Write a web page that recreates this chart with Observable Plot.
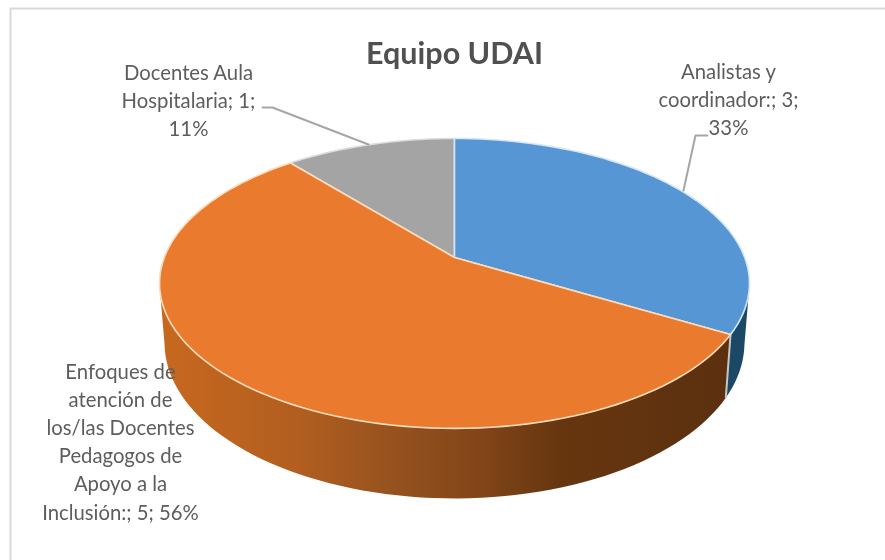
<!DOCTYPE html>
<html>
<head>
<meta charset="utf-8">
<script src="https://cdn.jsdelivr.net/npm/d3@7"></script>
<script src="https://cdn.jsdelivr.net/npm/@observablehq/plot@0.6"></script>
<style>html,body{margin:0;padding:0;background:#fff}</style>
</head>
<body>
<div id="chart"></div>
<script>
// Data
const categories = ["Analistas y coordinador:", "Enfoques de atención de los/las Docentes Pedagogos de Apoyo a la Inclusión:", "Docentes Aula Hospitalaria"];
const values = [3, 5, 1];
const percents = ["33%", "56%", "11%"];
const labelLines = [
  ["Analistas y", "coordinador:; 3;", "33%"],
  ["Enfoques de", "atención de", "los/las Docentes", "Pedagogos de", "Apoyo a la", "Inclusión:; 5; 56%"],
  ["Docentes Aula", "Hospitalaria; 1;", "11%"]
];
const chartTitle = "Equipo UDAI";

// Styles
const topFill = ["#5696d4", "#ea7b2e", "#a4a4a4"];
const topEdge = ["#d4e6f7", "#fbdcbc", "#d9dde2"];
const labelPos = [[728, 72], [120, 372], [188, 73]];
const leaders = [
  [[707, 135], [695, 135], [683, 190]],
  [[262, 107], [272, 107], [368, 144]]
];
const sideStops = [[160,"#c8681f"],[300,"#b15e20"],[400,"#94511e"],[480,"#824519"],[560,"#66360f"],[730,"#5c300f"]];

// Perspective view of the pie disc
const cx = 454, cy = 257, A = 290.2, S = 140.3, k = 0.179;
const rad = Math.PI / 180;
function topPt(a) {
  const X = Math.sin(a * rad), Y = -Math.cos(a * rad), w = 1 - k * Y;
  return {x: cx + A * X / w, y: cy + S * Y / w, w};
}
function lowPt(a) {
  const p = topPt(a);
  return {x: cx + 0.983 * (p.x - cx), y: p.y + 57.5 / p.w};
}
function arcPts(a0, a1, f) {
  const n = Math.max(2, Math.ceil(Math.abs(a1 - a0) / 2));
  return d3.range(n + 1).map(i => f(a0 + (a1 - a0) * i / n));
}

const total = d3.sum(values);
let run = 0;
const slices = values.map((v, i) => {
  const a0 = run * 360 / total; run += v; const a1 = run * 360 / total;
  return {i, a0, a1};
});

function sidePts(a0, a1) {
  const pts = [...arcPts(a0, a1, topPt), ...arcPts(a1, a0, lowPt)];
  return [...pts, pts[0]];
}
function facePts(s) {
  return [{x: cx, y: cy}, ...arcPts(s.a0, s.a1, topPt), {x: cx, y: cy}];
}

const defs = () => {
  const d = d3.create("svg:defs");
  const g = d.append("linearGradient").attr("id", "orangeSide")
    .attr("gradientUnits", "userSpaceOnUse")
    .attr("x1", 160).attr("x2", 730).attr("y1", 0).attr("y2", 0);
  for (const [x, c] of sideStops)
    g.append("stop").attr("offset", (x - 160) / 570).attr("stop-color", c);
  return d.node();
};

const seam = a => [topPt(a), lowPt(a)];

const plot = Plot.plot({
  width: 885, height: 560,
  margin: 0,
  x: {domain: [0, 885], range: [0, 885], axis: null},
  y: {domain: [0, 560], range: [0, 560], axis: null},
  style: {background: "#fff", fontFamily: "Lato, sans-serif", overflow: "hidden", filter: "blur(0.5px)"},
  marks: [
    defs,
    // chart frame (left and top edges visible)
    Plot.line([{x: 10, y: 560}, {x: 10, y: 8}, {x: 885, y: 8}], {x: "x", y: "y", stroke: "#d9d9d9", strokeWidth: 2}),
    // pie wall
    Plot.line(sidePts(slices[1].a0, 259), {x: "x", y: "y", fill: "url(#orangeSide)", stroke: "none"}),
    Plot.line(sidePts(101, slices[0].a1), {x: "x", y: "y", fill: "#1c4868", stroke: "none"}),
    Plot.line(seam(slices[0].a1), {x: "x", y: "y", stroke: "#c9c5c0", strokeWidth: 2}),
    // pie top
    ...[2, 0, 1].map(i => Plot.line(facePts(slices[i]), {
      x: "x", y: "y", fill: topFill[i], stroke: topEdge[i], strokeWidth: 1.6, strokeLinejoin: "round"
    })),
    // leaders
    ...leaders.map(l => Plot.line(l, {x: d => d[0], y: d => d[1], stroke: "#a6a6a6", strokeWidth: 2})),
    // labels
    ...labelLines.map((lines, i) => Plot.text(lines, {
      x: () => labelPos[i][0],
      y: (_, j) => labelPos[i][1] + j * 28.1,
      text: d => d,
      fill: "#5d5d5d", fontSize: 20.3, textAnchor: "middle", lineAnchor: "middle"
    })),
    Plot.text([chartTitle], {x: () => 454, y: () => 54, text: d => d, fill: "#505050", fontSize: 30.5, fontWeight: 700, textAnchor: "middle", lineAnchor: "middle"})
  ]
});
document.getElementById("chart").append(plot);
</script>
</body>
</html>
